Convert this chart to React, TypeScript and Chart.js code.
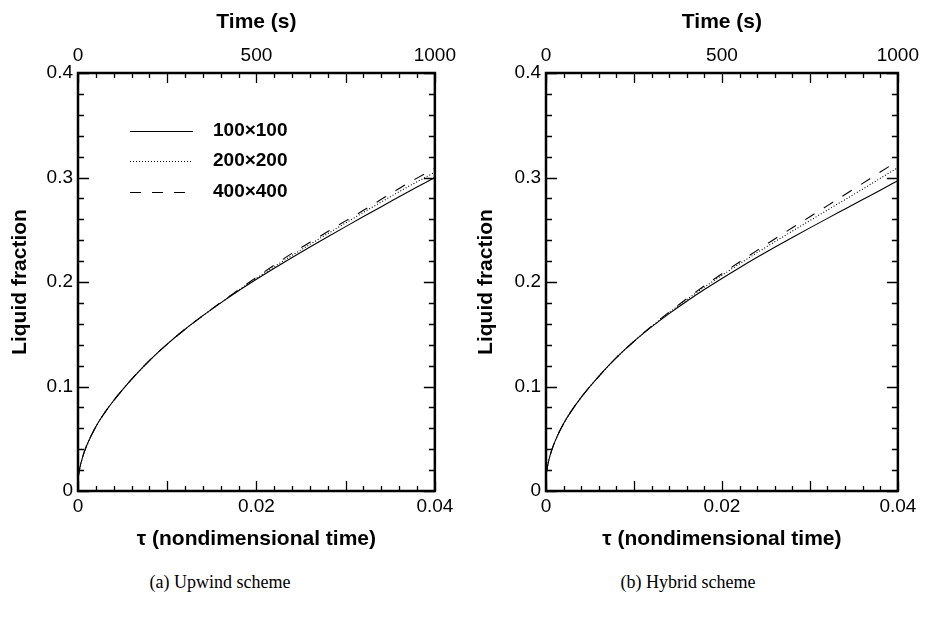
import React, { useEffect, useRef } from "react";
import { Chart, registerables } from "chart.js";
Chart.register(...registerables);

// nondimensional time samples
const tau = [0, 0.0002, 0.0005, 0.001, 0.002, 0.003, 0.004, 0.005, 0.006, 0.008, 0.010, 0.012, 0.014, 0.016, 0.018, 0.020, 0.022, 0.024, 0.026, 0.028, 0.030, 0.032, 0.034, 0.036, 0.038, 0.040];

// (a) Upwind scheme
const upwind100 = [0.012, 0.022, 0.032, 0.044, 0.0615, 0.075, 0.0866, 0.097, 0.1068, 0.1248, 0.1406, 0.1548, 0.1678, 0.18, 0.1916, 0.2026, 0.2132, 0.2235, 0.2335, 0.2433, 0.253, 0.2626, 0.2721, 0.2815, 0.2909, 0.300];
const upwind200 = [0.012, 0.022, 0.032, 0.044, 0.0615, 0.075, 0.0866, 0.097, 0.1068, 0.1248, 0.1406, 0.1548, 0.1678, 0.18, 0.1921, 0.2036, 0.2147, 0.2255, 0.236, 0.2463, 0.2565, 0.2666, 0.2766, 0.2865, 0.2959, 0.305];
const upwind400 = [0.012, 0.022, 0.032, 0.044, 0.0615, 0.075, 0.0866, 0.097, 0.1068, 0.1248, 0.1406, 0.1548, 0.1678, 0.1805, 0.1926, 0.2046, 0.2162, 0.2275, 0.238, 0.2483, 0.2585, 0.2686, 0.2791, 0.2895, 0.2994, 0.309];

// (b) Hybrid scheme
const hybrid100 = [0.015, 0.025, 0.035, 0.047, 0.0645, 0.078, 0.0896, 0.100, 0.1098, 0.1276, 0.1432, 0.157, 0.1697, 0.1816, 0.1928, 0.2034, 0.2137, 0.2236, 0.2332, 0.2426, 0.2518, 0.2609, 0.2699, 0.2789, 0.2879, 0.297];
const hybrid200 = [0.015, 0.025, 0.035, 0.047, 0.0645, 0.078, 0.0896, 0.100, 0.1098, 0.1276, 0.1432, 0.1574, 0.1707, 0.1832, 0.1951, 0.2064, 0.2174, 0.2281, 0.2385, 0.2487, 0.2588, 0.2689, 0.2789, 0.2889, 0.2992, 0.3095];
const hybrid400 = [0.015, 0.025, 0.035, 0.047, 0.0645, 0.078, 0.0896, 0.100, 0.1098, 0.1276, 0.1432, 0.1578, 0.1712, 0.1841, 0.1963, 0.2079, 0.2192, 0.2303, 0.2412, 0.2519, 0.2625, 0.2731, 0.2837, 0.2944, 0.3052, 0.316];

const seriesNames = ["100\u00d7100", "200\u00d7200", "400\u00d7400"];

// tick labels
const xTickValues = [0, 0.02, 0.04];
const topTickValues = [0, 500, 1000];
const yTickValues = [0, 0.1, 0.2, 0.3, 0.4];

const SANS = "'Liberation Sans', Arial, Helvetica, sans-serif";
const dashes: number[][] = [[], [1, 2], [11, 11]];

function fmt(v: number) {
  return String(parseFloat(v.toFixed(4)));
}

function makeFramePlugin(showLegend: boolean) {
  return {
    id: "frameTicks",
    afterDatasetsDraw(chart: any) {
      const { ctx, chartArea: a, scales } = chart;
      const xs = scales.x;
      const ys = scales.y;
      ctx.save();
      ctx.strokeStyle = "#000";
      ctx.lineWidth = 1.3;
      ctx.beginPath();
      // x ticks (bottom and top), major every 0.01, minor every 0.002
      for (let i = 0; i <= 20; i++) {
        const v = i * 0.002;
        const px = Math.round(xs.getPixelForValue(v)) + 0.5;
        const len = i % 5 === 0 ? 10 : 5;
        ctx.moveTo(px, a.bottom);
        ctx.lineTo(px, a.bottom - len);
        ctx.moveTo(px, a.top);
        ctx.lineTo(px, a.top + len);
      }
      // y ticks (left and right), major every 0.1, minor every 0.02
      for (let i = 0; i <= 20; i++) {
        const v = i * 0.02;
        const py = Math.round(ys.getPixelForValue(v)) + 0.5;
        const len = i % 5 === 0 ? 11 : 6;
        ctx.moveTo(a.left, py);
        ctx.lineTo(a.left + len, py);
        ctx.moveTo(a.right, py);
        ctx.lineTo(a.right - len, py);
      }
      ctx.stroke();
      ctx.lineWidth = 2.5;
      ctx.strokeRect(a.left, a.top, a.right - a.left, a.bottom - a.top);

      if (showLegend) {
        const lx0 = a.left + 52;
        const lx1 = a.left + 115;
        const tx = a.left + 135;
        const rows = [a.top + 58, a.top + 88, a.top + 119];
        ctx.font = "bold 19px " + SANS;
        ctx.textBaseline = "middle";
        ctx.textAlign = "left";
        ctx.fillStyle = "#000";
        rows.forEach((ry, i) => {
          ctx.beginPath();
          ctx.lineWidth = 1;
          ctx.setLineDash(dashes[i]);
          ctx.moveTo(lx0, ry + 0.5);
          ctx.lineTo(lx1 - (i === 2 ? 8 : 0), ry + 0.5);
          ctx.stroke();
          ctx.setLineDash([]);
          ctx.fillText(seriesNames[i], tx, ry);
        });
      }
      ctx.restore();
    },
  };
}

function makeConfig(series: number[][], opts: { leftW: number; rightPad: number; yTitlePad: number; legend: boolean }) {
  const datasets = series.map((vals, i) => ({
    label: seriesNames[i],
    data: tau.map((t, j) => ({ x: t, y: vals[j] })),
    borderColor: "#000",
    borderWidth: 1.1,
    borderDash: dashes[i],
    pointRadius: 0,
    fill: false,
    cubicInterpolationMode: "monotone" as const,
  }));
  const tickFont = { family: SANS, size: 19 };
  const titleFont = { family: SANS, size: 21, weight: "bold" as const };
  return {
    type: "line" as const,
    data: { datasets },
    plugins: [makeFramePlugin(opts.legend)],
    options: {
      animation: false as const,
      responsive: false,
      maintainAspectRatio: false,
      layout: { padding: { left: 0, right: opts.rightPad, top: 0, bottom: 0 } },
      plugins: { legend: { display: false }, tooltip: { enabled: false } },
      scales: {
        x: {
          type: "linear" as const,
          position: "bottom" as const,
          min: 0,
          max: 0.04,
          grid: { display: false, drawTicks: false },
          border: { display: false },
          afterBuildTicks: (s: any) => {
            s.ticks = xTickValues.map((v) => ({ value: v }));
          },
          afterFit: (s: any) => {
            s.height = 69;
          },
          ticks: { color: "#000", font: tickFont, padding: 4, maxRotation: 0, autoSkip: false, callback: (v: any) => fmt(Number(v)) },
          title: { display: true, text: "\u03c4 (nondimensional time)", color: "#000", font: titleFont, padding: 8 },
        },
        x2: {
          type: "linear" as const,
          position: "top" as const,
          min: 0,
          max: 1000,
          grid: { display: false, drawTicks: false },
          border: { display: false },
          afterBuildTicks: (s: any) => {
            s.ticks = topTickValues.map((v) => ({ value: v }));
          },
          afterFit: (s: any) => {
            s.height = 73;
          },
          ticks: { color: "#000", font: tickFont, padding: 6, maxRotation: 0, autoSkip: false, callback: (v: any) => fmt(Number(v)) },
          title: { display: true, text: "Time (s)", color: "#000", font: titleFont, padding: 10 },
        },
        y: {
          type: "linear" as const,
          position: "left" as const,
          min: 0,
          max: 0.4,
          grid: { display: false, drawTicks: false },
          border: { display: false },
          afterBuildTicks: (s: any) => {
            s.ticks = yTickValues.map((v) => ({ value: v }));
          },
          afterFit: (s: any) => {
            s.width = opts.leftW;
          },
          ticks: { color: "#000", font: tickFont, padding: 5, callback: (v: any) => fmt(Number(v)) },
          title: { display: true, text: "Liquid fraction", color: "#000", font: titleFont, padding: opts.yTitlePad },
        },
      },
    },
  };
}

function Panel(props: { series: number[][]; left: number; width: number; leftW: number; rightPad: number; yTitlePad: number; legend: boolean }) {
  const ref = useRef<HTMLCanvasElement | null>(null);
  useEffect(() => {
    if (!ref.current) return;
    const chart = new Chart(ref.current, makeConfig(props.series, props) as any);
    return () => chart.destroy();
  }, []);
  return (
    <canvas
      ref={ref}
      width={props.width}
      height={560}
      style={{ position: "absolute", left: props.left, top: 0, width: props.width, height: 560 }}
    />
  );
}

const captionStyle: React.CSSProperties = {
  position: "absolute",
  top: 570,
  width: 300,
  textAlign: "center",
  fontFamily: "'Liberation Serif', 'Times New Roman', serif",
  fontSize: 18,
  lineHeight: "24px",
  color: "#000",
};

export default function App() {
  return (
    <div style={{ position: "fixed", left: 0, top: 0, width: 925, height: 623, background: "#fff", overflow: "hidden" }}>
      <Panel series={[upwind100, upwind200, upwind400]} left={0} width={462} leftW={78} rightPad={26} yTitlePad={8} legend={true} />
      <Panel series={[hybrid100, hybrid200, hybrid400]} left={462} width={463} leftW={84} rightPad={22} yTitlePad={12} legend={false} />
      <div style={{ ...captionStyle, left: 220 - 150 }}>(a) Upwind scheme</div>
      <div style={{ ...captionStyle, left: 688 - 150 }}>(b) Hybrid scheme</div>
    </div>
  );
}
